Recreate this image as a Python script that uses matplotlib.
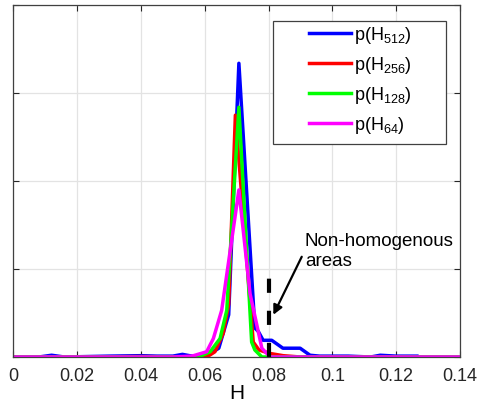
import matplotlib
matplotlib.use("Agg")
import matplotlib.pyplot as plt
from matplotlib.patches import Rectangle

plt.rcParams['font.family'] = ['Liberation Sans', 'DejaVu Sans']
plt.rcParams['mathtext.fontset'] = 'custom'
plt.rcParams['mathtext.rm'] = 'Liberation Sans'
plt.rcParams['mathtext.it'] = 'Liberation Sans:italic'

# histogram values
H_512 = [0, 0.008, 0.012, 0.016, 0.03, 0.04, 0.045, 0.05, 0.053, 0.056, 0.06,
         0.0644, 0.0675, 0.0707, 0.0757, 0.0768, 0.0783, 0.081, 0.0845, 0.0899,
         0.093, 0.096, 0.105, 0.112, 0.115, 0.12, 0.1265]
p_512 = [0.0, 0.0, 0.02, 0.0, 0.01, 0.015, 0.01, 0.01, 0.03, 0.01, 0.0,
         0.1, 0.48, 3.34, 0.33, 0.29, 0.19, 0.19, 0.1, 0.1,
         0.02, 0.01, 0.01, 0.0, 0.02, 0.01, 0.01]

H_256 = [0, 0.02, 0.04, 0.055, 0.06, 0.0615, 0.0632, 0.0658, 0.0675, 0.0696,
         0.0752, 0.077, 0.0805, 0.0846, 0.09, 0.14]
p_256 = [0, 0.0, 0.005, 0.0, 0.01, 0.02, 0.06, 0.27, 0.6, 2.75,
         0.17, 0.08, 0.04, 0.015, 0.0, 0.0]

H_128 = [0, 0.05, 0.058, 0.0617, 0.0648, 0.0669, 0.0707, 0.0747, 0.0757, 0.0779, 0.14]
p_128 = [0, 0, 0.0, 0.06, 0.21, 0.53, 2.84, 0.17, 0.08, 0.0, 0.0]

H_64 = [0, 0.05, 0.056, 0.0606, 0.0627, 0.0653, 0.0707, 0.0742, 0.0779, 0.0805, 0.14]
p_64 = [0, 0, 0.01, 0.06, 0.21, 0.53, 1.90, 0.72, 0.1, 0.0, 0.0]

seuil = 0.08
seuil_haut = 0.91
xticks = [0, 0.02, 0.04, 0.06, 0.08, 0.1, 0.12, 0.14]
xlabels = ['0', '0.02', '0.04', '0.06', '0.08', '0.1', '0.12', '0.14']

fig = plt.figure(figsize=(4.79, 4.05), dpi=100)
ax = fig.add_axes([0.0278, 0.1185, 0.9325, 0.8685])

lw = 2.5
ax.plot(H_512, p_512, color=(0, 0, 1), lw=lw, label=r'p(H$_{512}$)')
ax.plot(H_256, p_256, color=(1, 0, 0), lw=lw, label=r'p(H$_{256}$)')
ax.plot(H_128, p_128, color=(0, 1, 0), lw=lw, label=r'p(H$_{128}$)')
ax.plot(H_64, p_64, color=(1, 0, 1), lw=lw, label=r'p(H$_{64}$)')

# trait vertical pointille
ax.plot([seuil, seuil], [0, seuil_haut], color='black', lw=3,
        linestyle=(0, (3.4, 4.3)), solid_capstyle='butt', dash_capstyle='butt')

# fleche + texte
ax.annotate('', xy=(0.0815, 0.48), xytext=(0.0904, 1.14),
            arrowprops=dict(arrowstyle='-|>', color='black', lw=1.6,
                            mutation_scale=14, shrinkA=0, shrinkB=0))
ax.text(0.0914, 1.41, 'Non-homogenous\nareas', fontsize=13.5, ha='left',
        va='top', linespacing=1.25)

ax.set_xlim(0, 0.14)
ax.set_ylim(0, 4)
ax.set_xticks(xticks)
ax.set_xticklabels(xlabels)
ax.set_yticks([0, 1, 2, 3, 4])
ax.set_yticklabels([])
ax.tick_params(direction='in', length=4, width=0.8, top=True, right=True,
               labelsize=13, pad=8, colors='#262626')
ax.grid(True, color='#e3e3e3', lw=0.9)
ax.set_axisbelow(True)
for s in ax.spines.values():
    s.set_color('#404040')
    s.set_linewidth(0.9)
ax.set_xlabel('H', fontsize=15, labelpad=-1)

# cadre de la legende (style matlab)
cadre = Rectangle((0.582, 0.6056), 0.3867, 0.3504, transform=ax.transAxes,
                  facecolor='white', edgecolor='#404040', lw=0.9, zorder=4)
ax.add_patch(cadre)
leg = ax.legend(loc='upper left', bbox_to_anchor=(0.662, 0.945), fontsize=13,
                handlelength=2.3, handletextpad=0.2, labelspacing=0.5,
                frameon=False, borderpad=0, borderaxespad=0)
leg.set_zorder(5)

fig.savefig('out.png', dpi=100)
